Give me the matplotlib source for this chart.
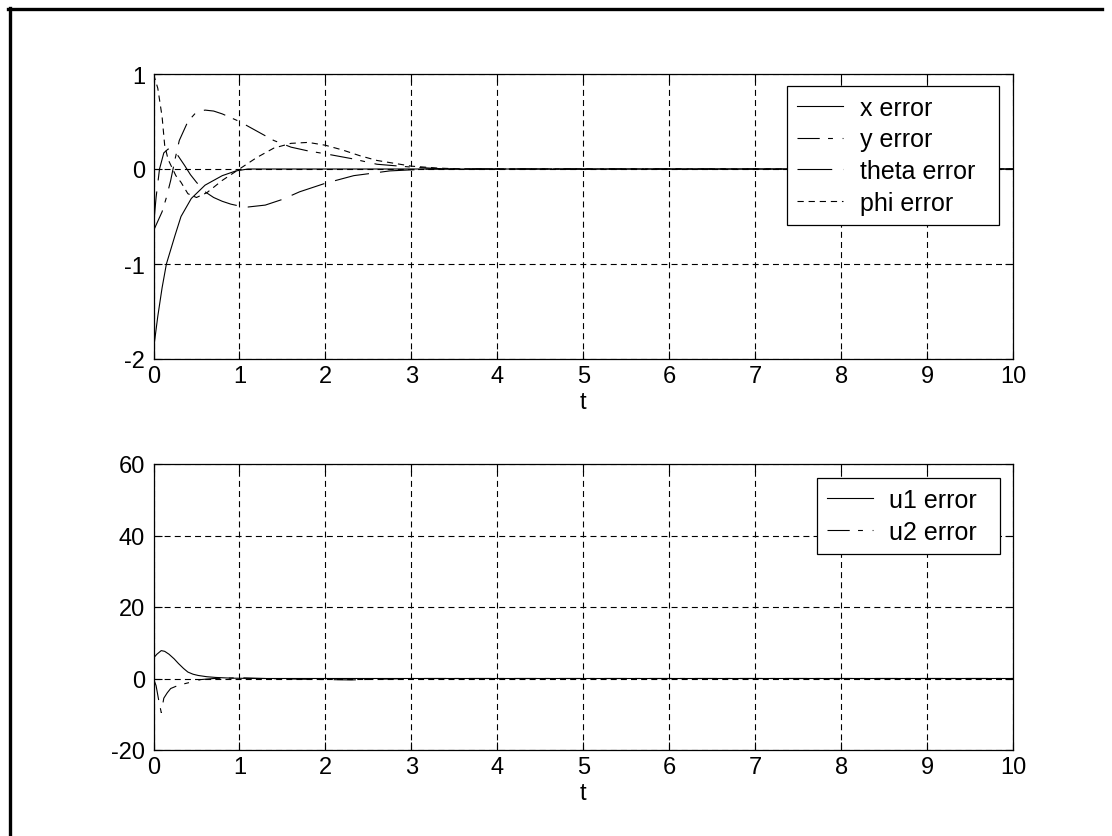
import matplotlib
matplotlib.use("Agg")
import matplotlib.pyplot as plt
from matplotlib.lines import Line2D

plt.rcParams['font.family'] = ['Liberation Sans', 'DejaVu Sans']
plt.rcParams['axes.unicode_minus'] = False
plt.rcParams['lines.scale_dashes'] = False

# ---------------- data ----------------
t_x = [0, 0.05, 0.1, 0.15, 0.2, 0.25, 0.32, 0.44, 0.6, 0.8, 0.96, 1.1, 10]
x_err = [-1.9, -1.55, -1.25, -1.0, -0.85, -0.7, -0.5, -0.31, -0.17, -0.07, -0.02, 0.0, 0.0]

t_y = [0, 0.05, 0.1, 0.15, 0.2, 0.25, 0.3, 0.4, 0.5, 0.6, 0.7, 0.8, 1.0, 1.2, 1.4,
       1.6, 1.8, 2.0, 2.3, 2.6, 3.0, 3.4, 10]
y_err = [-0.65, -0.55, -0.45, -0.3, -0.12, 0.1, 0.3, 0.5, 0.6, 0.62, 0.61, 0.58, 0.5,
         0.4, 0.3, 0.23, 0.19, 0.16, 0.11, 0.05, 0.02, 0.0, 0.0]

t_theta = [0, 0.03, 0.07, 0.12, 0.17, 0.22, 0.27, 0.36, 0.43, 0.5, 0.6, 0.7, 0.8, 0.9,
           1.0, 1.1, 1.3, 1.5, 1.7, 2.0, 2.33, 2.75, 3.2, 10]
theta_err = [-0.6, -0.3, 0.0, 0.17, 0.21, 0.2, 0.16, 0.04, -0.06, -0.14, -0.24, -0.3,
             -0.34, -0.37, -0.39, -0.4, -0.38, -0.32, -0.24, -0.15, -0.07, -0.02, 0.0, 0.0]

t_phi = [0, 0.05, 0.1, 0.13, 0.17, 0.26, 0.32, 0.4, 0.5, 0.62, 0.8, 1.0, 1.2, 1.4, 1.6,
         1.8, 2.0, 2.2, 2.4, 2.6, 2.8, 3.0, 3.3, 3.6, 10]
phi_err = [1.0, 0.85, 0.55, 0.25, 0.1, -0.07, -0.14, -0.26, -0.3, -0.25, -0.12, 0.0,
           0.12, 0.22, 0.27, 0.28, 0.25, 0.2, 0.14, 0.09, 0.06, 0.03, 0.01, 0.0, 0.0]

t_u1 = [0, 0.01, 0.04, 0.09, 0.13, 0.18, 0.24, 0.29, 0.35, 0.4, 0.46, 0.52, 0.62, 0.72,
        0.9, 1.2, 10]
u1_err = [13.0, 6.0, 6.8, 7.8, 7.6, 6.8, 5.5, 4.2, 2.8, 1.8, 1.2, 0.85, 0.5, 0.3, 0.1,
          0.0, 0.0]

t_u2 = [0, 0.03, 0.06, 0.09, 0.12, 0.16, 0.2, 0.26, 0.32, 0.44, 0.55, 0.7, 1.0, 1.3,
        2.0, 2.3, 2.6, 3.0, 10]
u2_err = [0.0, -2.0, -6.0, -9.5, -5.5, -4.0, -2.8, -2.2, -1.7, -1.0, -0.3, 0.0, 0.2,
          0.0, -0.3, -0.4, -0.2, 0.0, 0.0]

top_labels = ["x error", "y error", "theta error", "phi error"]
bot_labels = ["u1 error", "u2 error"]
x_ticks = list(range(0, 11))
top_yticks = [-2, -1, 0, 1]
bot_yticks = [-20, 0, 20, 40, 60]

# ---------------- styles ----------------
FS = 17
LFS = 18
LW = 0.8
sty_solid = dict(color='black', lw=LW, linestyle='-')
sty_dashdot = dict(color='black', lw=LW, linestyle=(0, (16, 6, 3.5, 7)))
sty_long = dict(color='black', lw=LW, linestyle=(0, (25, 8)))
sty_short = dict(color='black', lw=LW, linestyle=(0, (4.5, 3.5)))

W, H = 1112, 837
fig = plt.figure(figsize=(W / 100, H / 100), dpi=100)
fig.patch.set_facecolor('white')

AX_L, AX_R = 153.5, 1013
TOP_T, TOP_B = 75, 360
BOT_T, BOT_B = 465, 751

def pos(l, t, r, b):
    return [l / W, 1 - b / H, (r - l) / W, (b - t) / H]

ax1 = fig.add_axes(pos(AX_L, TOP_T, AX_R, TOP_B))
ax2 = fig.add_axes(pos(AX_L, BOT_T, AX_R, BOT_B))

def style_axes(ax, yticks, ylim):
    ax.set_xlim(0, 10)
    ax.set_ylim(*ylim)
    ax.set_xticks(x_ticks)
    ax.set_yticks(yticks)
    ax.grid(True, color='black', linestyle=(0, (4.3, 3.0)), linewidth=0.8)
    ax.set_axisbelow(True)
    ax.tick_params(direction='in', length=6, width=0.8, top=True, right=True,
                   labelsize=FS, colors='black')
    ax.tick_params(axis='x', pad=4)
    ax.tick_params(axis='y', pad=6)
    for s in ax.spines.values():
        s.set_linewidth(0.9)
        s.set_color('black')
    ax.set_xlabel('t', fontsize=FS, labelpad=3)

style_axes(ax1, top_yticks, (-2, 1))
style_axes(ax2, bot_yticks, (-20, 60))

ax1.plot(t_x, x_err, label=top_labels[0], **sty_solid)
ax1.plot(t_y, y_err, label=top_labels[1], **sty_dashdot)
ax1.plot(t_theta, theta_err, label=top_labels[2], **sty_long)
ax1.plot(t_phi, phi_err, label=top_labels[3], **sty_short)

ax2.plot(t_u1, u1_err, label=bot_labels[0], **sty_solid)
ax2.plot(t_u2, u2_err, label=bot_labels[1], **sty_dashdot)

leg_kw = dict(loc='upper left', mode='expand', borderaxespad=0, fontsize=LFS,
              fancybox=False, framealpha=1, edgecolor='black', handlelength=1.84,
              handletextpad=0.67, borderpad=0.4, labelspacing=0.31)

def leg_box(left, top, right, ax_top, ax_bottom):
    aw = AX_R - AX_L
    ah = ax_bottom - ax_top
    x0 = (left - AX_L) / aw
    w = (right - left) / aw
    ytop = (ax_bottom - top) / ah
    return (x0, 0, w, ytop)

l1 = ax1.legend(bbox_to_anchor=leg_box(787, 86.7, 999, TOP_T, TOP_B), **leg_kw)
l2 = ax2.legend(bbox_to_anchor=leg_box(816.7, 479, 1000, BOT_T, BOT_B), **leg_kw)
for lg in (l1, l2):
    lg.get_frame().set_linewidth(0.9)

# figure border (top and left edges only)
fig.add_artist(Line2D([8 / W, 1102 / W], [1 - 10 / H, 1 - 10 / H],
                      transform=fig.transFigure, color='black', lw=2.4))
fig.add_artist(Line2D([9.5 / W, 9.5 / W], [0, 1 - 8.5 / H],
                      transform=fig.transFigure, color='black', lw=2.4))

fig.savefig('out.png', dpi=100, facecolor='white')
